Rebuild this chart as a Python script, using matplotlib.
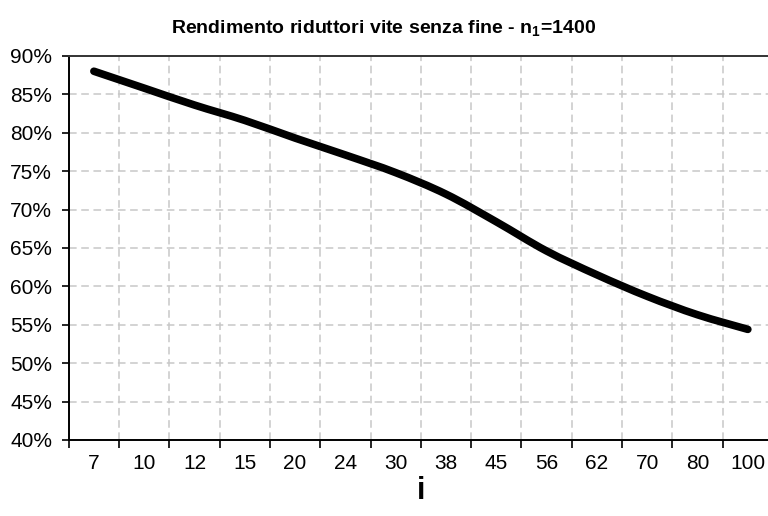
import numpy as np
import matplotlib
matplotlib.use("Agg")
import matplotlib.pyplot as plt
from matplotlib.path import Path
from matplotlib.patches import PathPatch
from matplotlib.ticker import FixedLocator, PercentFormatter

# rapporti di riduzione e rendimento (%)
ratios = ["7", "10", "12", "15", "20", "24", "30", "38", "45", "56", "62", "70", "80", "100"]
efficiency = [88.0, 85.8, 83.6, 81.6, 79.3, 77.1, 74.8, 72.0, 68.4, 64.6, 61.5, 58.7, 56.3, 54.4]
y_ticks = [40, 45, 50, 55, 60, 65, 70, 75, 80, 85, 90]

plt.rcParams['font.family'] = ['Liberation Sans', 'DejaVu Sans']
plt.rcParams['mathtext.fontset'] = 'custom'
plt.rcParams['mathtext.rm'] = 'Liberation Sans'
plt.rcParams['mathtext.bf'] = 'Liberation Sans:bold'


def smooth_path(xs, ys):
    # Catmull-Rom -> Bezier (come la linea smussata di Excel)
    pts = np.column_stack([xs, ys])
    ext = np.vstack([pts[0], pts, pts[-1]])
    verts = [tuple(pts[0])]
    codes = [Path.MOVETO]
    for i in range(1, len(ext) - 2):
        p0, p1, p2, p3 = ext[i - 1], ext[i], ext[i + 1], ext[i + 2]
        c1 = p1 + (p2 - p0) / 6
        c2 = p2 - (p3 - p1) / 6
        verts += [tuple(c1), tuple(c2), tuple(p2)]
        codes += [Path.CURVE4] * 3
    return Path(verts, codes)


fig = plt.figure(figsize=(7.68, 5.16), dpi=100)
ax = fig.add_axes([0.0895, 0.1473, 0.917, 0.7444])

x = np.arange(len(ratios))
path = smooth_path(x, efficiency)
ax.add_patch(PathPatch(path, facecolor='none', edgecolor='black', lw=5.5,
                       capstyle='round', joinstyle='round', zorder=3))

ax.set_xlim(-0.5, len(ratios) - 0.5)
ax.set_ylim(40, 90)

# tick principali ai bordi delle categorie, etichette al centro
ax.xaxis.set_major_locator(FixedLocator(np.arange(len(ratios) + 1) - 0.5))
ax.xaxis.set_minor_locator(FixedLocator(x))
ax.set_xticklabels([], minor=False)
ax.set_xticklabels(ratios, minor=True)
ax.tick_params(axis='x', which='major', length=6, width=1.2, direction='out')
ax.tick_params(axis='x', which='minor', length=0, pad=10, labelsize=15)

ax.set_yticks(y_ticks)
ax.yaxis.set_major_formatter(PercentFormatter(decimals=0))
ax.tick_params(axis='y', length=5, width=1.2, direction='out', pad=7, labelsize=15)

ax.grid(True, which='major', color='#c8c8c8', linestyle=(0, (5, 3)), linewidth=1.1)
ax.set_axisbelow(True)

for side in ['left', 'bottom', 'top']:
    ax.spines[side].set_linewidth(1.4)
    ax.spines[side].set_color('black')
ax.spines['top'].set_color('#333333')
ax.spines['right'].set_visible(False)

ax.set_xlabel('i', fontsize=22, fontweight='bold', labelpad=2)
fig.text(0.5, 0.945, r'Rendimento riduttori vite senza fine - n$_{\mathbf{1}}$=1400',
         ha='center', va='center', fontsize=14, fontweight='bold')

fig.savefig('out.png', dpi=100)
